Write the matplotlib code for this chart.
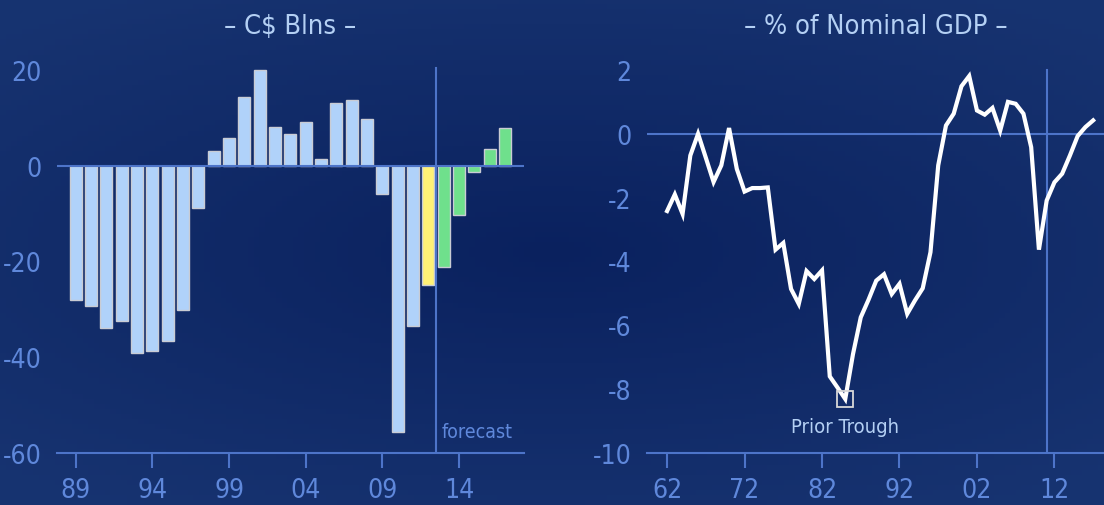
import matplotlib
matplotlib.use("Agg")
import matplotlib.pyplot as plt
import numpy as np

plt.rcParams['font.family'] = ['DejaVu Sans']
plt.rcParams['font.stretch'] = 'condensed'
plt.rcParams['axes.unicode_minus'] = False

# left panel: federal balance, C$ billions
bar_years = list(range(1989, 2018))
balance = [-28.1, -29.2, -34.0, -32.5, -39.1, -38.7, -36.7, -30.1, -8.8, 3.0,
           5.85, 14.3, 19.9, 8.1, 6.7, 9.1, 1.5, 13.2, 13.8, 9.7,
           -5.9, -55.7, -33.5, -25.0, -21.2, -10.3, -1.3, 3.4, 7.8]
bar_kind = ['actual'] * 23 + ['estimate'] + ['forecast'] * 5
left_ticks = [1989, 1994, 1999, 2004, 2009, 2014]
left_labels = ['89', '94', '99', '04', '09', '14']
left_yticks = [20, 0, -20, -40, -60]

# right panel: balance as % of nominal GDP
gdp_years = list(range(1962, 2018))
gdp_pct = [-2.42, -1.90, -2.51, -0.68, 0.00, -0.75, -1.51, -0.99, 0.18, -1.10,
           -1.81, -1.70, -1.70, -1.68, -3.63, -3.42, -4.86, -5.33, -4.30, -4.55,
           -4.28, -7.60, -7.95, -8.31, -6.90, -5.75, -5.20, -4.60, -4.40, -5.02,
           -4.70, -5.64, -5.22, -4.84, -3.71, -0.99, 0.26, 0.63, 1.49, 1.81,
           0.73, 0.60, 0.81, 0.10, 1.00, 0.94, 0.63, -0.42, -3.63, -2.09,
           -1.52, -1.25, -0.68, -0.07, 0.21, 0.42]
right_ticks = [1962, 1972, 1982, 1992, 2002, 2012]
right_labels = ['62', '72', '82', '92', '02', '12']
right_yticks = [2, 0, -2, -4, -6, -8, -10]
trough_year = 1985

axis_col = '#4d74c9'
tick_col = '#5f88db'
title_col = '#b4d0f4'
kind_col = {'actual': '#b0d2fa', 'estimate': '#fff176', 'forecast': '#6fe08c'}

fig = plt.figure(figsize=(11.04, 5.06), dpi=100)

# background
bg = fig.add_axes([0, 0, 1, 1])
gx, gy = np.meshgrid(np.linspace(-1, 1, 200), np.linspace(-1, 1, 100))
r = np.sqrt((gx * 0.9) ** 2 + (gy * 1.1) ** 2)
c0 = np.array([0.04, 0.13, 0.37])
c1 = np.array([0.09, 0.20, 0.44])
t = np.clip(r / 1.3, 0, 1)[..., None]
bg.imshow(c0 * (1 - t) + c1 * t, aspect='auto', extent=[0, 1, 0, 1])
bg.axis('off')


def style(ax):
    ax.set_facecolor('none')
    for s in ['top', 'right', 'left']:
        ax.spines[s].set_visible(False)
    ax.spines['bottom'].set_color(axis_col)
    ax.spines['bottom'].set_linewidth(1.5)
    ax.tick_params(axis='x', colors=axis_col, length=11, width=1.5,
                   labelcolor=tick_col, labelsize=19, pad=6)
    ax.tick_params(axis='y', length=0, labelcolor=tick_col, labelsize=19, pad=11)


# left chart
ax1 = fig.add_axes([0.0516, 0.1028, 0.4226, 0.7759])
style(ax1)
ax1.bar(bar_years, balance, width=0.78, color=[kind_col[k] for k in bar_kind],
        edgecolor='#c9ccd4', linewidth=1.0, zorder=2)
ax1.axhline(0, color=axis_col, lw=1.5, zorder=3)
ax1.plot([2012.47, 2012.47], [-60, 20.4], color=axis_col, lw=1.5, zorder=3)
ax1.text(2012.85, -57.6, 'forecast', color=tick_col, fontsize=14, va='bottom', ha='left')
ax1.set_xlim(1987.78, 2018.2)
ax1.set_ylim(-60, 22)
ax1.set_xticks(left_ticks)
ax1.set_xticklabels(left_labels)
ax1.set_yticks(left_yticks)
ax1.set_title('\u2013 C$ Blns \u2013', color=title_col, fontsize=19.5, pad=20)

# right chart
ax2 = fig.add_axes([0.586, 0.1028, 0.414, 0.7759])
style(ax2)
ax2.axhline(0, color=axis_col, lw=1.5, zorder=1)
ax2.plot([2011.0, 2011.0], [-10, 2.0], color=axis_col, lw=1.5, zorder=1)
ax2.plot(gdp_years, gdp_pct, color='white', lw=3.0, solid_joinstyle='miter', zorder=3)
ti = gdp_years.index(trough_year)
ax2.plot(trough_year, gdp_pct[ti], marker='s', ms=11.5, mfc='none',
         mec='#d8d8d8', mew=1.3, zorder=4)
ax2.text(trough_year, -9.18, 'Prior Trough', color=title_col, fontsize=14.5,
         ha='center', va='center')
ax2.set_xlim(1959.4, 2018.4)
ax2.set_ylim(-10, 2.3)
ax2.set_xticks(right_ticks)
ax2.set_xticklabels(right_labels)
ax2.set_yticks(right_yticks)
ax2.set_title('\u2013 % of Nominal GDP \u2013', color=title_col, fontsize=19.5, pad=20)

fig.savefig('out.png', dpi=100)
